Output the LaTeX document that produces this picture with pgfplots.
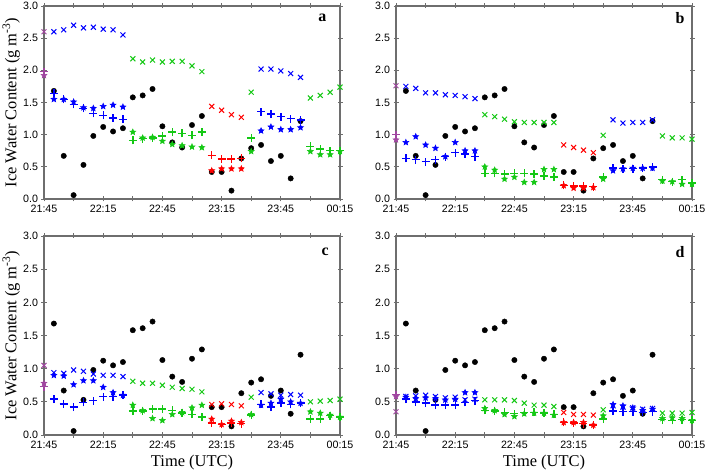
\documentclass[border=0pt]{standalone}
\usepackage{fontspec}
\setmainfont{Liberation Serif}
\setsansfont{Liberation Sans}
\usepackage{pgfplots}
\usepackage{pgfplotstable}
\pgfplotsset{compat=1.18}
\usetikzlibrary{plotmarks}

\definecolor{cb}{RGB}{0,0,255}
\definecolor{cg}{RGB}{20,200,20}
\definecolor{cr}{RGB}{255,0,0}
\definecolor{cp}{RGB}{160,70,160}
\definecolor{frame}{RGB}{110,110,110}

\pgfdeclareplotmark{fstar}{%
 \pgfpathmoveto{\pgfpointpolar{90}{\pgfplotmarksize}}%
 \pgfpathlineto{\pgfpointpolar{126}{0.45\pgfplotmarksize}}%
 \pgfpathlineto{\pgfpointpolar{162}{\pgfplotmarksize}}%
 \pgfpathlineto{\pgfpointpolar{198}{0.45\pgfplotmarksize}}%
 \pgfpathlineto{\pgfpointpolar{234}{\pgfplotmarksize}}%
 \pgfpathlineto{\pgfpointpolar{270}{0.45\pgfplotmarksize}}%
 \pgfpathlineto{\pgfpointpolar{306}{\pgfplotmarksize}}%
 \pgfpathlineto{\pgfpointpolar{342}{0.45\pgfplotmarksize}}%
 \pgfpathlineto{\pgfpointpolar{18}{\pgfplotmarksize}}%
 \pgfpathlineto{\pgfpointpolar{54}{0.45\pgfplotmarksize}}%
 \pgfpathclose
 \pgfusepathqfillstroke}

\pgfdeclareplotmark{plus}{%
 \pgfpathmoveto{\pgfqpoint{-\pgfplotmarksize}{0pt}}%
 \pgfpathlineto{\pgfqpoint{\pgfplotmarksize}{0pt}}%
 \pgfpathmoveto{\pgfqpoint{0pt}{-\pgfplotmarksize}}%
 \pgfpathlineto{\pgfqpoint{0pt}{\pgfplotmarksize}}%
 \pgfusepathqstroke}

% black dots (same in all panels)
\pgfplotstableread{
t v
5 1.68
10 0.67
15 0.06
20 0.53
25 0.98
30 1.12
35 1.05
40 1.10
45 1.58
50 1.61
55 1.71
60 1.13
65 0.88
70 0.80
75 1.15
80 1.29
85 0.42
90 0.42
95 0.13
100 0.63
105 0.79
110 0.84
115 0.59
120 0.67
125 0.32
130 1.21
}\blackdots

% k: 0 purple, 1 blue, 2 green, 3 red
\pgfplotstableread{
t k X P S
0 0 2.60 1.98 1.92
5 1 2.60 1.64 1.55
10 1 2.63 1.55 1.55
15 1 2.70 1.47 1.51
20 1 2.66 1.41 1.42
25 1 2.67 1.33 1.41
30 1 2.64 1.30 1.44
35 1 2.63 1.26 1.46
40 1 2.55 1.24 1.43
45 2 2.18 0.91 1.04
50 2 2.13 0.94 0.95
55 2 2.16 0.95 0.96
60 2 2.13 0.98 0.90
65 2 2.14 1.04 0.85
70 2 2.14 1.02 0.83
75 2 2.07 0.99 0.81
80 2 1.98 1.04 0.80
85 3 1.44 0.68 0.44
90 3 1.38 0.62 0.47
95 3 1.31 0.62 0.47
100 3 1.27 0.63 0.47
105 2 1.66 0.95 0.74
110 1 2.02 1.36 1.06
115 1 2.02 1.32 1.12
120 1 1.99 1.28 1.08
125 1 1.95 1.25 1.08
130 1 1.89 1.23 1.11
135 2 1.57 0.82 0.74
140 2 1.61 0.78 0.69
145 2 1.66 0.75 0.69
150 2 1.74 0.75 0.74
}\ta

\pgfplotstableread{
t k X P S
0 0 1.76 1.00 0.92
5 1 1.75 0.63 0.88
10 1 1.72 0.61 0.97
15 1 1.65 0.58 0.84
20 1 1.65 0.61 0.79
25 1 1.62 0.66 0.66
30 1 1.61 0.72 0.88
35 1 1.59 0.70 0.75
40 1 1.56 0.66 0.75
45 2 1.31 0.40 0.50
50 2 1.28 0.40 0.45
55 2 1.24 0.39 0.31
60 2 1.20 0.40 0.34
65 2 1.19 0.40 0.26
70 2 1.19 0.39 0.26
75 2 1.19 0.36 0.46
80 2 1.19 0.34 0.46
85 3 0.84 0.21 0.21
90 3 0.80 0.20 0.17
95 3 0.76 0.20 0.17
100 3 0.72 0.19 0.18
105 2 0.99 0.34 0.31
110 1 1.23 0.48 0.44
115 1 1.18 0.47 0.47
120 1 1.19 0.47 0.48
125 1 1.19 0.48 0.48
130 1 1.23 0.50 0.48
135 2 0.98 0.30 0.28
140 2 0.95 0.27 0.27
145 2 0.95 0.30 0.23
150 2 0.93 0.25 0.23
}\tb

\pgfplotstableread{
t k X P S
0 0 1.05 0.73 0.78
5 1 0.94 0.54 0.90
10 1 0.93 0.47 0.89
15 1 0.98 0.42 0.76
20 1 0.96 0.49 0.82
25 1 0.92 0.52 0.82
30 1 0.90 0.58 0.72
35 1 0.90 0.58 0.64
40 1 0.88 0.60 0.60
45 2 0.81 0.36 0.45
50 2 0.78 0.36 0.37
55 2 0.78 0.39 0.25
60 2 0.75 0.39 0.22
65 2 0.72 0.37 0.31
70 2 0.70 0.33 0.34
75 2 0.69 0.31 0.41
80 2 0.65 0.27 0.45
85 3 0.46 0.18 0.24
90 3 0.47 0.16 0.16
95 3 0.46 0.18 0.21
100 3 0.44 0.17 0.19
105 2 0.57 0.30 0.31
110 1 0.64 0.46 0.45
115 1 0.62 0.42 0.48
120 1 0.60 0.48 0.54
125 1 0.61 0.46 0.50
130 1 0.60 0.48 0.48
135 2 0.50 0.24 0.35
140 2 0.51 0.24 0.33
145 2 0.52 0.29 0.30
150 2 0.54 0.27 0.27
}\tc

\pgfplotstableread{
t k X P S
0 0 0.35 0.61 0.58
5 1 0.58 0.54 0.57
10 1 0.59 0.50 0.55
15 1 0.60 0.48 0.56
20 1 0.58 0.45 0.55
25 1 0.56 0.45 0.53
30 1 0.57 0.45 0.54
35 1 0.53 0.49 0.64
40 1 0.54 0.52 0.64
45 2 0.53 0.37 0.40
50 2 0.53 0.36 0.37
55 2 0.53 0.34 0.31
60 2 0.52 0.32 0.28
65 2 0.48 0.34 0.32
70 2 0.45 0.34 0.33
75 2 0.45 0.33 0.33
80 2 0.43 0.31 0.30
85 3 0.34 0.19 0.19
90 3 0.31 0.18 0.19
95 3 0.31 0.17 0.19
100 3 0.30 0.15 0.15
105 2 0.38 0.24 0.29
110 1 0.44 0.36 0.46
115 1 0.42 0.35 0.44
120 1 0.41 0.35 0.41
125 1 0.39 0.34 0.37
130 1 0.40 0.35 0.39
135 2 0.33 0.23 0.25
140 2 0.33 0.22 0.26
145 2 0.33 0.23 0.25
150 2 0.34 0.22 0.22
}\td

\pgfplotsset{
 panel/.style={
  scale only axis, width=296bp,
  xmin=0,xmax=150,ymin=0,ymax=3,
  xtick={0,30,...,150}, xticklabels={21:45,22:15,22:45,23:15,23:45,00:15},
  minor xtick={15,45,...,135},
  ytick={0,0.5,...,3},
  yticklabel style={/pgf/number format/fixed,/pgf/number format/fixed zerofill,/pgf/number format/precision=1},
  /pgf/number format/assume math mode=true,
  tick label style={font=\sffamily\fontsize{10.7}{12}\selectfont},
  xlabel style={font=\fontsize{16.5}{18}\selectfont},
  every axis y label/.style={at={(axis description cs:-0.111,0.5)}, rotate=90, anchor=center, font=\fontsize{16.5}{18}\selectfont},
  axis line style={draw=frame, line width=1.1bp},
  tick style={draw=frame, line width=0.9bp},
  major tick length=5bp, minor tick length=5bp,
  tick align=center,
  clip=false,
 },
 dotp/.style={only marks, mark=*, mark size=2.7bp, color=black},
 mx/.style={only marks, mark=x, mark size=3.5bp, mark options={line width=1bp}},
 mp/.style={only marks, mark=plus, mark size=4bp, mark options={line width=1.4bp}},
 ms/.style={only marks, mark=fstar, mark size=3bp, mark options={line width=0.6bp}},
}

% #1 table, #2 column, #3 marker style
\newcommand{\grp}[3]{%
 \addplot[color=cp, #3, restrict expr to domain={\thisrow{k}}{0:0}] table[x=t,y=#2]{#1};
 \addplot[color=cb, #3, restrict expr to domain={\thisrow{k}}{1:1}] table[x=t,y=#2]{#1};
 \addplot[color=cg, #3, restrict expr to domain={\thisrow{k}}{2:2}] table[x=t,y=#2]{#1};
 \addplot[color=cr, #3, restrict expr to domain={\thisrow{k}}{3:3}] table[x=t,y=#2]{#1};
}
\newcommand{\series}[1]{%
 \addplot[dotp] table[x=t,y=v]{\blackdots};
 \grp{#1}{X}{mx}
 \grp{#1}{P}{mp}
 \grp{#1}{S}{ms}
}

\begin{document}
\begin{tikzpicture}
\useasboundingbox (0,0) rectangle (709bp,473bp);
\begin{axis}[panel, height=193bp, at={(44bp,274bp)}, anchor=south west,
  ylabel={Ice Water Content (g m\textsuperscript{-3})}]
\series{\ta}
\node[font=\bfseries\fontsize{16}{18}\selectfont] at (rel axis cs:0.94,0.94) {a};
\end{axis}
\begin{axis}[panel, height=193bp, at={(396bp,274bp)}, anchor=south west]
\series{\tb}
\node[font=\bfseries\fontsize{16}{18}\selectfont] at (rel axis cs:0.96,0.94) {b};
\end{axis}
\begin{axis}[panel, height=199bp, at={(44bp,38bp)}, anchor=south west,
  ylabel={Ice Water Content (g m\textsuperscript{-3})}, xlabel={Time (UTC)}]
\series{\tc}
\node[font=\bfseries\fontsize{16}{18}\selectfont] at (rel axis cs:0.95,0.92) {c};
\end{axis}
\begin{axis}[panel, height=199bp, at={(396bp,38bp)}, anchor=south west,
  xlabel={Time (UTC)}]
\series{\td}
\node[font=\bfseries\fontsize{16}{18}\selectfont] at (rel axis cs:0.96,0.92) {d};
\end{axis}
\end{tikzpicture}
\end{document}
